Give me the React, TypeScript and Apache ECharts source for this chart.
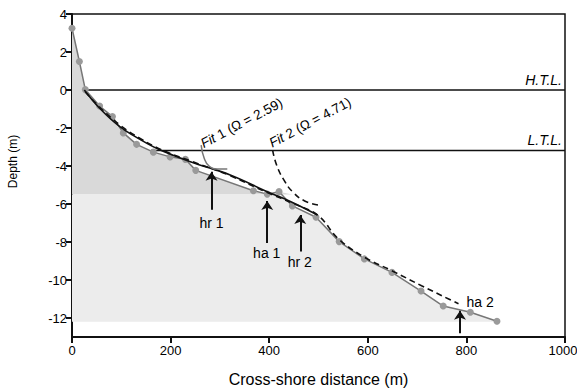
import React, { useEffect, useRef } from "react";
import * as echarts from "echarts";

// ---- data ----
const xTicks = [0, 200, 400, 600, 800, 1000];
const yTicks = [-12, -10, -8, -6, -4, -2, 0, 2, 4];

const profileX = [0, 15, 27, 56, 82, 104, 131, 165, 199, 230, 251, 368, 396, 420, 447, 495, 542, 593, 649, 708, 753, 808, 862];
const profileY = [3.25, 1.5, 0.02, -0.84, -1.4, -2.26, -2.86, -3.27, -3.52, -3.65, -4.23, -5.3, -5.48, -5.35, -6.1, -6.7, -7.98, -8.89, -9.6, -10.58, -11.37, -11.7, -12.17];

const fit1X = [25, 56, 97, 138, 179, 240, 321, 396, 444, 498];
const fit1Y = [0, -0.96, -1.93, -2.6, -3.16, -3.77, -4.47, -5.35, -5.88, -6.58];

const fit2X = [27, 60, 100, 140, 180, 240, 320, 396, 450, 500, 539, 593, 648, 709, 764, 784];
const fit2Y = [-0.1, -1.0, -1.9, -2.58, -3.13, -3.73, -4.5, -5.4, -5.98, -6.62, -7.8, -8.8, -9.5, -10.3, -11.0, -11.25];

const fit1ExtX = [262, 268, 278, 295, 315];
const fit1ExtY = [-2.9, -3.58, -4.0, -4.16, -4.16];

const fit2ExtX = [407, 415, 430, 448, 472, 499];
const fit2ExtY = [-3.16, -3.95, -4.74, -5.37, -5.84, -6.05];

const htlLevel = 0;
const htlStartX = 27;
const ltlLevel = -3.19;
const ltlStartX = 160;

const splitDepth = -5.5;
const bottomDepth = -12.2;

const arrowNames = ["hr 1", "ha 1", "hr 2", "ha 2"];
const arrowX = [283, 396, 463, 787];
const arrowFromY = [-6.3, -8.05, -8.5, -12.8];
const arrowToY = [-4.3, -5.84, -6.58, -11.62];
const arrowLabelX = [283, 395, 462, 828];
const arrowLabelY = [-7.0, -8.6, -9.05, -11.15];

const fitLabels = ["{i|Fit} 1 (Ω = 2.59)", "{i|Fit} 2 (Ω = 4.71)"];
const fitLabelX = [344, 483];
const fitLabelY = [-1.74, -1.71];

const tideLabels = ["H.T.L.", "L.T.L."];
const tideLabelY = [0.53, -2.63];

const FONT = "Liberation Sans, Arial, Helvetica, sans-serif";
const INK = "#111";
const TXT = "#000";

function zip(xs: number[], ys: number[]) {
  return xs.map((x, i) => [x, ys[i]]);
}

export default function App() {
  const ref = useRef<HTMLDivElement>(null);

  useEffect(() => {
    document.body.style.margin = "0";
    const chart = echarts.init(ref.current!, null, { renderer: "svg" });

    const profile = zip(profileX, profileY);
    const lastX = profileX[profileX.length - 1];
    const maxX = xTicks[xTicks.length - 1];

    const darkPoly = [
      ...profile.map(([x, y]) => [x, Math.max(y, splitDepth)]),
      [lastX, splitDepth],
      [profileX[0], splitDepth],
    ];
    const lightPoly = [
      [profileX[0], splitDepth],
      ...profile.map(([x, y]) => [x, Math.min(y, splitDepth)]),
      [lastX, bottomDepth],
      [profileX[0], bottomDepth],
    ];

    const polySeries = (pts: number[][], color: string, z: number) => ({
      type: "custom",
      z,
      silent: true,
      data: [[0, 0]],
      renderItem: (_p: any, api: any) => ({
        type: "polygon",
        shape: { points: pts.map((p) => api.coord(p)) },
        style: { fill: color, stroke: "none" },
      }),
    });

    const textBase = { fontFamily: FONT, color: TXT, textBorderWidth: 0, textShadowBlur: 0 };

    const labelSeries = (data: any[], label: any) => ({
      type: "scatter",
      z: 7,
      silent: true,
      symbolSize: 0,
      itemStyle: { opacity: 1 },
      data,
      label: { show: true, opacity: 1, formatter: (p: any) => p.name, ...label },
    });

    const option: any = {
      animation: false,
      backgroundColor: "#ffffff",
      grid: {
        left: 72,
        right: 12,
        top: 14,
        bottom: 53,
        show: true,
        borderColor: INK,
        borderWidth: 1.5,
        backgroundColor: "transparent",
        outerBoundsMode: "none",
      },
      xAxis: {
        type: "value",
        min: 0,
        max: 1000,
        interval: 200,
        name: "Cross-shore distance (m)",
        nameLocation: "middle",
        nameGap: 34,
        nameTextStyle: { fontFamily: FONT, fontSize: 16, color: TXT },
        axisLine: { show: true, onZero: false, lineStyle: { color: INK, width: 2 } },
        axisTick: { show: true, length: 6, lineStyle: { color: INK, width: 2 }, customValues: xTicks },
        axisLabel: {
          fontFamily: FONT,
          fontSize: 13,
          color: TXT,
          margin: 7,
          customValues: xTicks,
          formatter: (v: number) => (v === maxX ? "{r|" + v + "}" : String(v)),
          rich: { r: { fontFamily: FONT, fontSize: 13, color: TXT, padding: [0, 4, 0, 0] } },
        },
        splitLine: { show: false },
      },
      yAxis: {
        type: "value",
        min: -13,
        max: 4,
        name: "Depth (m)",
        nameLocation: "middle",
        nameGap: 53,
        nameTextStyle: { fontFamily: FONT, fontSize: 12, color: TXT, padding: [0, 0, 0, 28] },
        axisLine: { show: true, onZero: false, lineStyle: { color: INK, width: 2 } },
        axisTick: { show: true, length: 6, lineStyle: { color: INK, width: 2 }, customValues: yTicks },
        axisLabel: { fontFamily: FONT, fontSize: 13, color: TXT, margin: 5, customValues: yTicks },
        splitLine: { show: false },
      },
      series: [
        polySeries(darkPoly, "#d9d9d9", 1),
        polySeries(lightPoly, "#ececec", 1),
        {
          type: "line",
          z: 3,
          data: [[htlStartX, htlLevel], [maxX, htlLevel]],
          symbol: "none",
          lineStyle: { color: INK, width: 1.5 },
        },
        {
          type: "line",
          z: 3,
          data: [[ltlStartX, ltlLevel], [maxX, ltlLevel]],
          symbol: "none",
          lineStyle: { color: INK, width: 1.5 },
        },
        {
          type: "line",
          z: 4,
          data: profile,
          symbol: "circle",
          symbolSize: 7,
          itemStyle: { color: "#9a9a9a", borderWidth: 0 },
          lineStyle: { color: "#777", width: 1.5 },
        },
        {
          type: "line",
          z: 5,
          data: zip(fit1X, fit1Y),
          smooth: 0.4,
          symbol: "none",
          lineStyle: { color: INK, width: 1.6 },
        },
        {
          type: "line",
          z: 5,
          data: zip(fit2X, fit2Y),
          smooth: 0.4,
          symbol: "none",
          lineStyle: { color: INK, width: 1.6, type: [6, 4] },
        },
        {
          type: "line",
          z: 5,
          data: zip(fit1ExtX, fit1ExtY),
          smooth: 0.5,
          symbol: "none",
          lineStyle: { color: "#777", width: 1.5 },
        },
        {
          type: "line",
          z: 5,
          data: zip(fit2ExtX, fit2ExtY),
          smooth: 0.5,
          symbol: "none",
          lineStyle: { color: INK, width: 1.6, type: [6, 4] },
        },
        {
          type: "lines",
          coordinateSystem: "cartesian2d",
          z: 6,
          symbol: ["none", "arrow"],
          symbolSize: [0, 9],
          lineStyle: { color: INK, width: 2, opacity: 1 },
          data: arrowX.map((x, i) => ({ coords: [[x, arrowFromY[i]], [x, arrowToY[i]]] })),
        },
        labelSeries(
          arrowLabelX.map((x, i) => ({ value: [x, arrowLabelY[i]], name: arrowNames[i] })),
          { position: "inside", fontSize: 14, ...textBase }
        ),
        labelSeries(
          fitLabelX.map((x, i) => ({ value: [x, fitLabelY[i]], name: fitLabels[i] })),
          {
            position: "inside",
            rotate: 28,
            fontSize: 13.5,
            ...textBase,
            rich: { i: { fontStyle: "italic", fontSize: 13.5, ...textBase } },
          }
        ),
        labelSeries(
          tideLabelY.map((y, i) => ({ value: [maxX, y], name: tideLabels[i] })),
          { position: "left", distance: 3, fontSize: 14, fontStyle: "italic", ...textBase }
        ),
      ],
    };

    chart.setOption(option);
    return () => chart.dispose();
  }, []);

  return (
    <div
      ref={ref}
      style={{ position: "absolute", left: 0, top: 0, width: 577, height: 390, background: "#fff" }}
    />
  );
}
